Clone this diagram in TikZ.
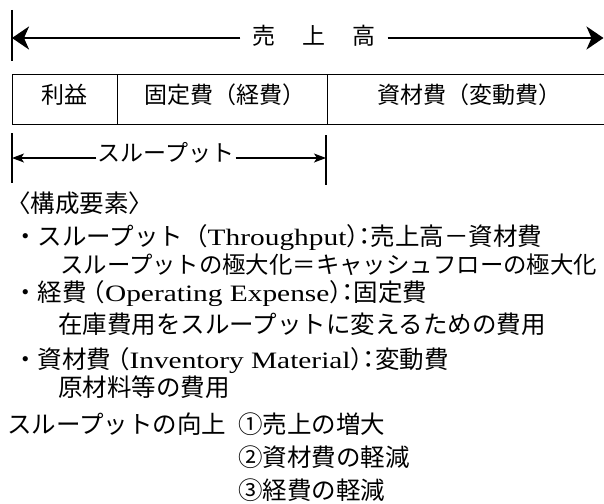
\documentclass[tikz,border=0pt]{standalone}
\usepackage{fontspec}
\setmainfont{Noto Sans CJK JP}
\newfontfamily\latfont{Liberation Serif}[FakeStretch=1.25]
\usetikzlibrary{arrows.meta}
\newcommand{\lat}[1]{{\latfont\fontsize{23.5}{23.5}\selectfont #1}}
\begin{document}
\begin{tikzpicture}[x=1pt,y=-1pt,
 txt/.style={inner sep=0pt, text height=0.88em, text depth=0.12em, font=\fontsize{24.5}{24.5}\selectfont},
 body/.style={txt, anchor=west},
 toptxt/.style={inner sep=0pt, text height=0.88em, text depth=0.12em, font=\fontsize{23}{23}\selectfont},
 cell/.style={draw, line width=0.9pt, minimum height=50pt, inner sep=0pt, anchor=north west, text height=0.88em, text depth=0.12em, font=\fontsize{23}{23}\selectfont},
 bigarrow/.style={line width=2.6pt, -{Stealth[length=17pt,width=23pt,inset=5pt]}},
 smallarrow/.style={line width=1.1pt, -{Stealth[length=12pt,width=9pt,inset=3pt]}},
 bar/.style={line width=1.8pt},
]
\useasboundingbox (0,0) rectangle (604,503);
\fill[white] (0,0) rectangle (604,503);
% top arrow
\coordinate (tlt) at (12,10); \coordinate (tlb) at (12,61);
\draw[bar] (tlt) -- (tlb);
\coordinate (tl) at (12,38); \coordinate (tr) at (603.5,38);
\node[toptxt, inner xsep=12pt] (sales) at (314,41) {売\hspace{27pt}上\hspace{27pt}高};
\draw[bigarrow] (sales.west |- tl) -- (tl);
\draw[bigarrow] (sales.east |- tr) -- (tr);
% box
\node[cell, minimum width=105pt] (c1) at (12,74) {利益};
\node[cell, minimum width=210pt] (c2) at (117,74) {\hspace{6pt}固定費（経費）};
\node[cell, minimum width=285pt] (c3) at (327,74) {資材費（変動費）};
% throughput arrow
\coordinate (blt) at (12,133); \coordinate (blb) at (12,183);
\coordinate (brt) at (326,135); \coordinate (brb) at (326,185);
\draw[bar] (blt) -- (blb);
\draw[bar] (brt) -- (brb);
\coordinate (bl) at (12,158); \coordinate (br) at (326,158);
\node[toptxt, inner xsep=1pt] (tp) at (166,158) {スループット};
\draw[smallarrow] (tp.west) -- (bl);
\draw[smallarrow] (tp.east) -- (br);
% text block
\node[body] (h) at (6,209) {〈構成要素〉};
\node[body] (l1) at (13,242) {・スループット（\lat{Throughput}）\kern-.75em：\kern-.25em売上高－資材費};
\node[body, font=\fontsize{23.4}{23.4}\selectfont] (l2) at (60,270) {スループットの極大化＝キャッシュフローの極大化};
\node[body] (l3) at (13,298) {・経費\kern-.25em（\lat{Operating Expense}）\kern-.75em：\kern-.25em固定費};
\node[body] (l4) at (58,330) {在庫費用をスループットに変えるための費用};
\node[body] (l5) at (13,365) {・資材費\kern-.25em（\lat{Inventory Material}）\kern-.75em：\kern-.25em変動費};
\node[body] (l6) at (58,393) {原材料等の費用};
\node[body] (u) at (7,430) {スループットの向上};
\node[body] (u1) at (238,430) {①売上の増大};
\node[body] (u2) at (238,463) {②資材費の軽減};
\node[body] (u3) at (238,496) {③経費の軽減};
\end{tikzpicture}
\end{document}
